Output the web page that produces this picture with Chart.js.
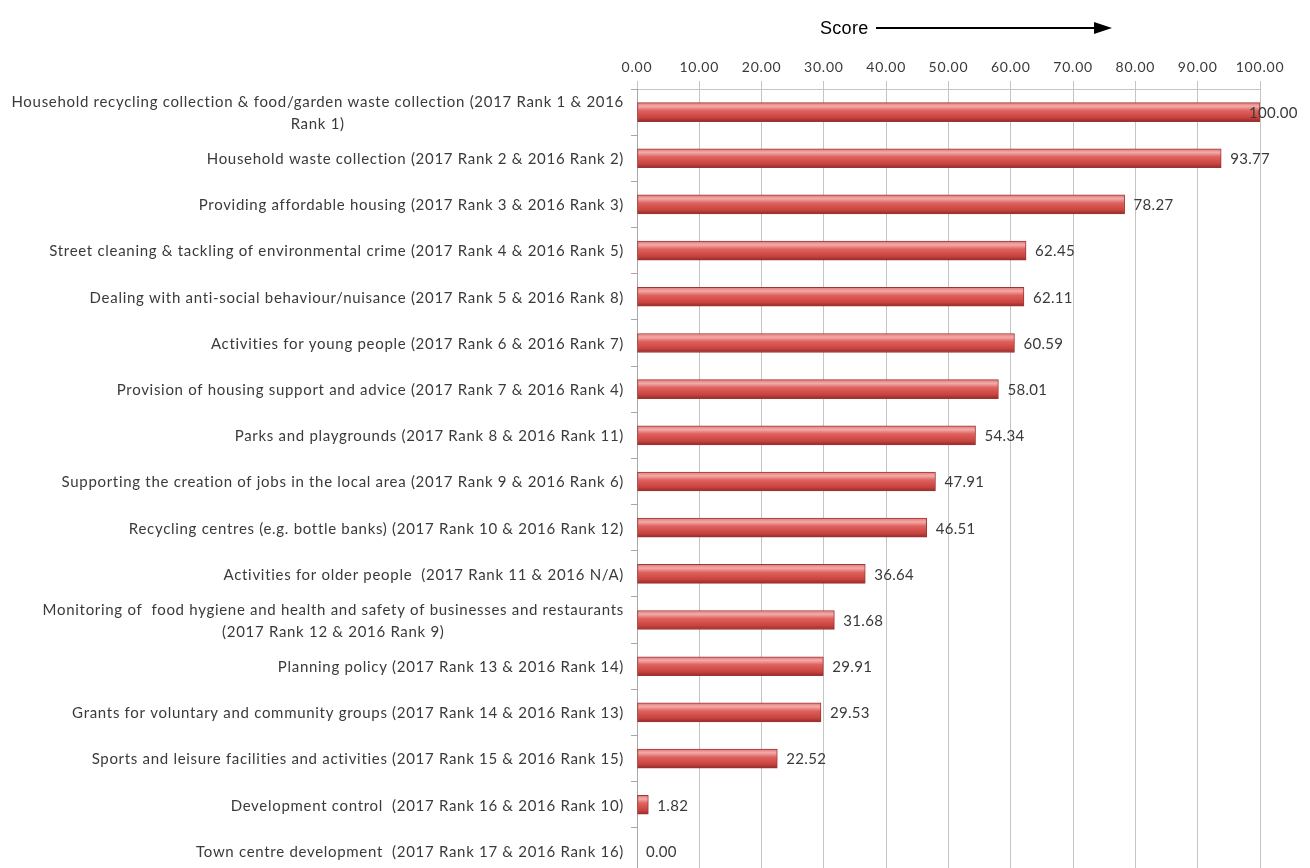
<!DOCTYPE html>
<html>
<head>
<meta charset="utf-8">
<script src="https://cdn.jsdelivr.net/npm/chart.js@4.4.0/dist/chart.umd.min.js"></script>
<style>
  html, body { margin: 0; padding: 0; background: #fff; overflow: hidden; }
  #wrap { width: 1310px; height: 874px; }
</style>
</head>
<body>
<div id="wrap"><canvas id="chart" width="1310" height="874"></canvas></div>
<script>
// categories (top to bottom)
const services = [
    ['Household recycling collection & food/garden waste collection (2017 Rank 1 & 2016', 'Rank 1)'],
    'Household waste collection (2017 Rank 2 & 2016 Rank 2)',
    'Providing affordable housing (2017 Rank 3 & 2016 Rank 3)',
    'Street cleaning & tackling of environmental crime (2017 Rank 4 & 2016 Rank 5)',
    'Dealing with anti-social behaviour/nuisance (2017 Rank 5 & 2016 Rank 8)',
    'Activities for young people (2017 Rank 6 & 2016 Rank 7)',
    'Provision of housing support and advice (2017 Rank 7 & 2016 Rank 4)',
    'Parks and playgrounds (2017 Rank 8 & 2016 Rank 11)',
    'Supporting the creation of jobs in the local area (2017 Rank 9 & 2016 Rank 6)',
    'Recycling centres (e.g. bottle banks) (2017 Rank 10 & 2016 Rank 12)',
    'Activities for older people  (2017 Rank 11 & 2016 N/A)',
    ['Monitoring of  food hygiene and health and safety of businesses and restaurants', '(2017 Rank 12 & 2016 Rank 9)'],
    'Planning policy (2017 Rank 13 & 2016 Rank 14)',
    'Grants for voluntary and community groups (2017 Rank 14 & 2016 Rank 13)',
    'Sports and leisure facilities and activities (2017 Rank 15 & 2016 Rank 15)',
    'Development control  (2017 Rank 16 & 2016 Rank 10)',
    'Town centre development  (2017 Rank 17 & 2016 Rank 16)'
];

const scores = [100.00, 93.77, 78.27, 62.45, 62.11, 60.59, 58.01, 54.34, 47.91, 46.51, 36.64, 31.68, 29.91, 29.53, 22.52, 1.82, 0.00];

const scoreTicks = [0, 10, 20, 30, 40, 50, 60, 70, 80, 90, 100];

const labelFont = '15px Lato';
const textColor = '#3a3a3a';

// bar fill: shaded like the 3D-ish office bars
function barFill(context) {
    let chart = context.chart;
    let yScale = chart.scales.y;
    if (!yScale || context.dataIndex === undefined) return '#d0504c';
    let yc = yScale.getPixelForValue(context.dataIndex);
    if (!isFinite(yc)) return '#d0504c';
    let half = 9.5;
    let g = chart.ctx.createLinearGradient(0, yc - half, 0, yc + half);
    g.addColorStop(0, '#e27a77');
    g.addColorStop(0.2, '#f2aba9');
    g.addColorStop(0.42, '#df625e');
    g.addColorStop(0.8, '#c9423e');
    g.addColorStop(1, '#8f2c2a');
    return g;
}

// wider letter spacing to get closer to the original text widths
const spacing = {
    id: 'spacing',
    beforeDraw(chart) {
        chart.ctx.letterSpacing = '0.8px';
    }
};

// category labels drawn by hand so wrapped lines can be centred
const categoryLabels = {
    id: 'categoryLabels',
    afterDraw(chart) {
        let ctx = chart.ctx;
        let yScale = chart.scales.y;
        let right = chart.chartArea.left - 13;
        ctx.save();
        ctx.letterSpacing = '0.7px';
        ctx.font = labelFont;
        ctx.fillStyle = textColor;
        ctx.textBaseline = 'middle';
        services.forEach((label, i) => {
            let y = yScale.getPixelForValue(i);
            let lines = Array.isArray(label) ? label : [label];
            let widths = lines.map(l => ctx.measureText(l).width);
            let maxW = Math.max(...widths);
            let lineH = 22;
            let top = y + 1 - (lines.length - 1) * lineH / 2;
            ctx.textAlign = 'center';
            lines.forEach((l, k) => {
                ctx.fillText(l, right - maxW / 2, top + k * lineH);
            });
        });
        ctx.restore();
    }
};

// value labels at the end of each bar
const valueLabels = {
    id: 'valueLabels',
    afterDatasetsDraw(chart) {
        let ctx = chart.ctx;
        let meta = chart.getDatasetMeta(0);
        ctx.save();
        ctx.letterSpacing = '0.3px';
        ctx.font = labelFont;
        ctx.fillStyle = textColor;
        ctx.textAlign = 'left';
        ctx.textBaseline = 'middle';
        meta.data.forEach((bar, i) => {
            let x = Math.min(bar.x + 9, chart.width - 61);
            ctx.fillText(scores[i].toFixed(2), x, bar.y + 1);
        });
        ctx.restore();
    }
};

// "Score ---->" heading above the axis
const scoreHeading = {
    id: 'scoreHeading',
    afterDraw(chart) {
        let ctx = chart.ctx;
        ctx.save();
        ctx.letterSpacing = '0.3px';
        ctx.font = '18px "Liberation Sans", Arial, sans-serif';
        ctx.fillStyle = '#000';
        ctx.textAlign = 'left';
        ctx.textBaseline = 'alphabetic';
        ctx.fillText('Score', 820, 34);
        ctx.strokeStyle = '#000';
        ctx.lineWidth = 2;
        ctx.beginPath();
        ctx.moveTo(876, 28);
        ctx.lineTo(1098, 28);
        ctx.stroke();
        ctx.beginPath();
        ctx.moveTo(1112, 28);
        ctx.lineTo(1094, 22);
        ctx.lineTo(1094, 34);
        ctx.closePath();
        ctx.fill();
        ctx.restore();
    }
};

let ctx = document.getElementById('chart').getContext('2d');
new Chart(ctx, {
    type: 'bar',
    data: {
        labels: services,
        datasets: [{
            label: 'Score',
            data: scores,
            backgroundColor: barFill,
            borderColor: '#9e3432',
            borderWidth: 1,
            borderSkipped: false,
            barThickness: 19
        }]
    },
    options: {
        indexAxis: 'y',
        responsive: false,
        animation: false,
        devicePixelRatio: 1,
        layout: {
            padding: { top: 54, right: 50, bottom: 0, left: 0 }
        },
        scales: {
            x: {
                type: 'linear',
                position: 'top',
                min: 0,
                max: 100,
                afterBuildTicks: s => { s.ticks = scoreTicks.map(v => ({ value: v })); },
                afterFit: s => { s.height = 35; },
                ticks: {
                    callback: v => Number(v).toFixed(2),
                    font: { family: 'Lato', size: 14 },
                    color: textColor,
                    padding: 5,
                    maxRotation: 0
                },
                grid: { color: '#c4c4c4', tickLength: 8 },
                border: { display: true, color: '#c4c4c4' }
            },
            y: {
                type: 'category',
                offset: true,
                afterFit: s => { s.width = 637; },
                ticks: { display: false },
                grid: {
                    offset: true,
                    drawOnChartArea: false,
                    color: '#a8a8a8',
                    tickLength: 6
                },
                border: { display: true, color: '#a8a8a8' }
            }
        },
        plugins: {
            legend: { display: false },
            tooltip: { enabled: false }
        }
    },
    plugins: [spacing, categoryLabels, valueLabels, scoreHeading]
});
</script>
</body>
</html>
